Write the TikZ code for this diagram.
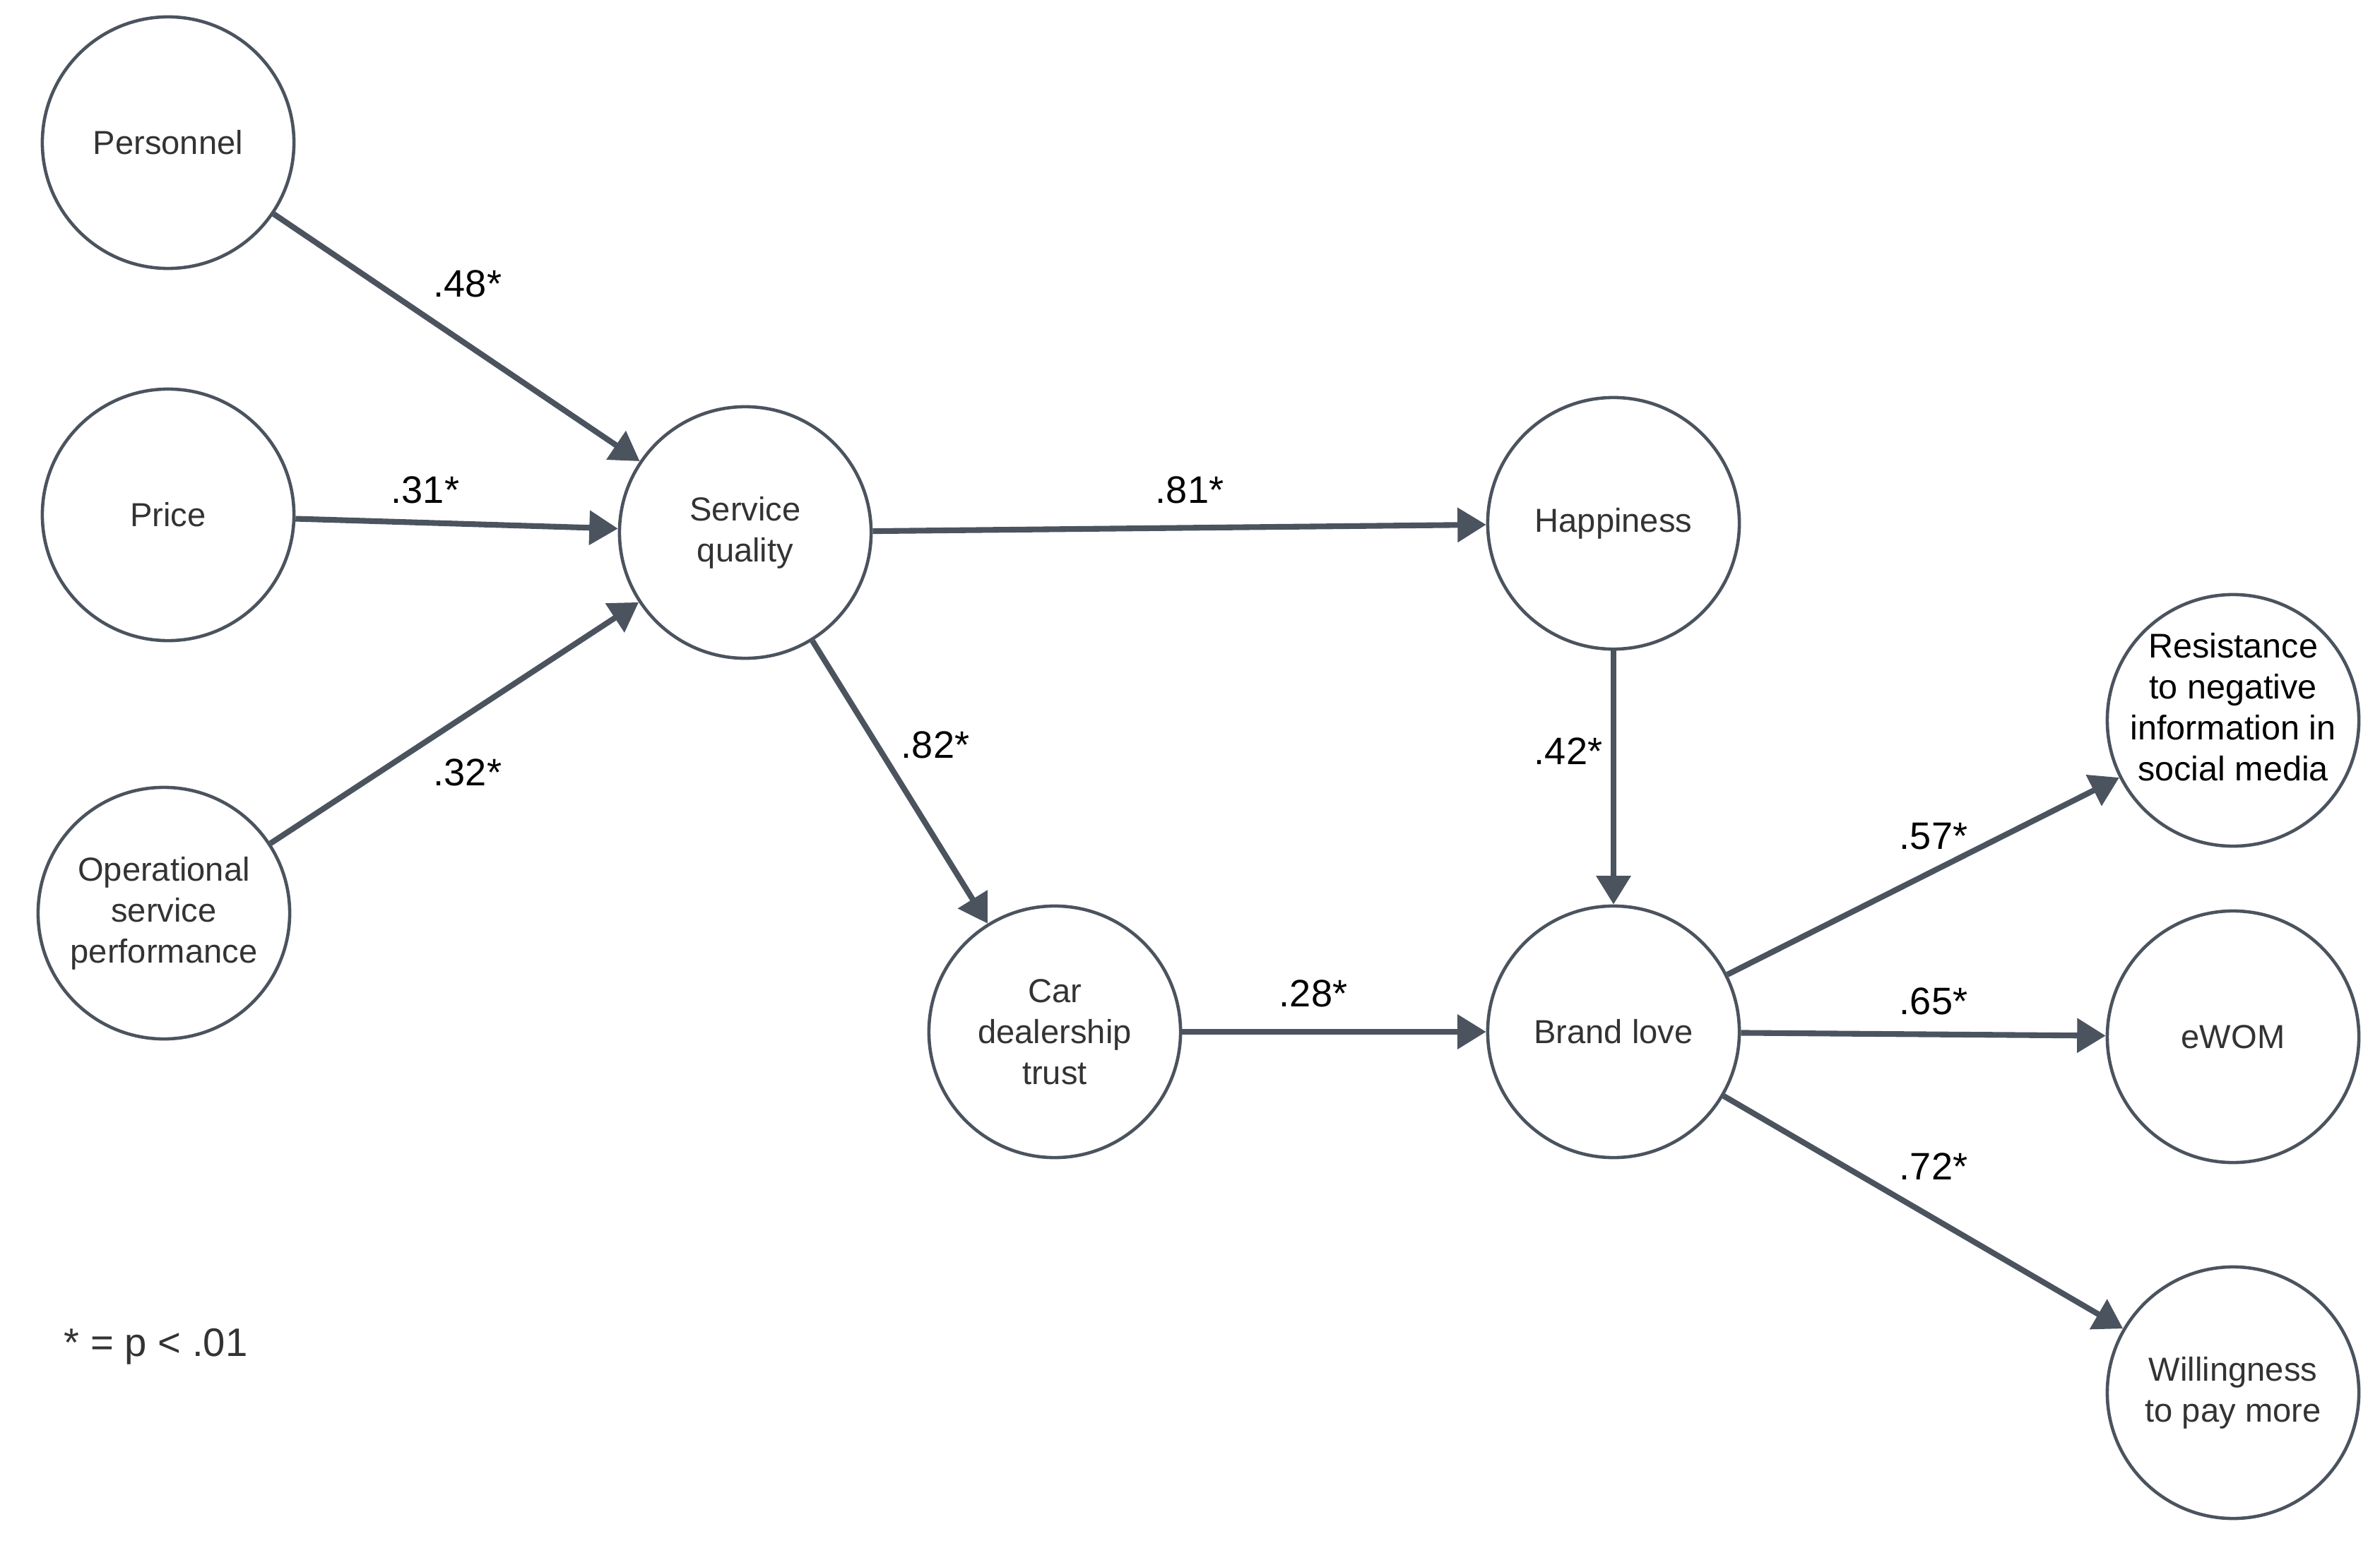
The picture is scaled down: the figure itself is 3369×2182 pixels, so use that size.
\documentclass[tikz,border=0pt]{standalone}
\usepackage{fontspec}
\setmainfont{Liberation Sans}
\usetikzlibrary{arrows.meta}
\definecolor{strokec}{HTML}{4B535E}
\definecolor{nodetxt}{HTML}{333333}
\tikzset{
  var/.style={circle, draw=strokec, line width=1.3pt, fill=white, minimum size=3.56cm, inner sep=0pt,
    align=center, text=nodetxt, font=\fontsize{13.4}{16.5}\selectfont},
  path/.style={draw=strokec, line width=2.3pt, -{Triangle[length=11.5pt,width=13.5pt]}},
  coef/.style={text=black, font=\fontsize{15.4}{18}\selectfont, inner sep=0pt}
}
\begin{document}
\begin{tikzpicture}[x=0.01cm, y=-0.01cm]
\useasboundingbox (0,0) rectangle (3369,2182);
\node[var] (pers) at (238,202) {Personnel};
\node[var] (price) at (238,729) {Price};
\node[var] (ops) at (232,1293) {Operational\\service\\performance};
\node[var] (sq) at (1055,754) {Service\\quality};
\node[var] (hap) at (2284,741) {Happiness};
\node[var] (car) at (1493,1461) {Car\\dealership\\trust};
\node[var] (bl) at (2284,1461) {Brand love};
\node[var, text=black] (res) at (3161,1020) {\raisebox{0cm}[0pt][0pt]{\makebox[0pt]{\fontsize{13.8}{16.5}\selectfont\begin{tabular}{@{}c@{}}Resistance\\to negative\\information in\\social media\end{tabular}}}};
\node[var] (ewom) at (3161,1468) {eWOM};
\node[var] (wtp) at (3161,1972) {Willingness\\to pay more};

\draw[path] (pers) -- (sq);
\draw[path] (price) -- (sq);
\draw[path] (ops) -- (sq);
\draw[path] (sq) -- (hap);
\draw[path] (sq) -- (car);
\draw[path] (hap) -- (bl);
\draw[path] (car) -- (bl);
\draw[path] (bl) -- (res);
\draw[path] (bl) -- (ewom);
\draw[path] (bl) -- (wtp);

\node[coef] (l1) at (662,402) {.48*};
\node[coef] (l2) at (602,694) {.31*};
\node[coef] (l3) at (662,1094) {.32*};
\node[coef] (l4) at (1684,694) {.81*};
\node[coef] (l5) at (1324,1055) {.82*};
\node[coef] (l6) at (2220,1064) {.42*};
\node[coef] (l7) at (1859,1407) {.28*};
\node[coef] (l8) at (2737,1184) {.57*};
\node[coef] (l9) at (2737,1418) {.65*};
\node[coef] (l10) at (2737,1652) {.72*};

\node[anchor=base west, text=nodetxt, font=\fontsize{16}{19}\selectfont, inner sep=0pt] (leg) at (90,1920) {* = p < .01};
\end{tikzpicture}
\end{document}
